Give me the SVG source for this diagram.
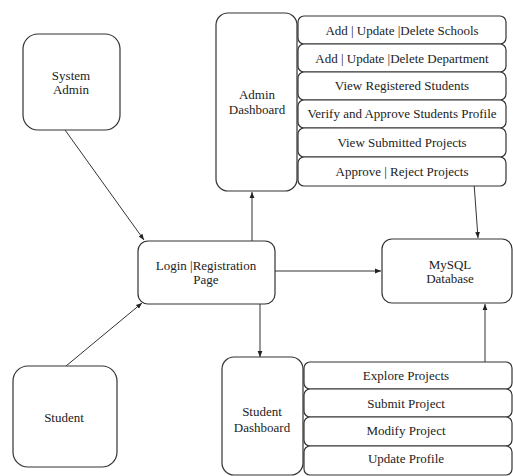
<svg xmlns="http://www.w3.org/2000/svg" width="513" height="476" viewBox="0 0 513 476" font-family="Liberation Serif, Times New Roman, serif">
<defs>
<style>
.box{fill:#fff;stroke:#333;stroke-width:1.2}
.t{font-size:13px;fill:#222;text-anchor:middle}
.c{stroke:#333;stroke-width:1;fill:none}
</style>
<marker id="ah" viewBox="0 0 10 10" refX="10" refY="5" markerWidth="6" markerHeight="6" orient="auto">
<path d="M0,1 L10,5 L0,9 z" fill="#222"/>
</marker>
</defs>
<rect width="513" height="476" fill="#fff"/>
<g id="connectors">
<line class="c" x1="65" y1="130" x2="144" y2="240" marker-end="url(#ah)"/>
<line class="c" x1="66" y1="366" x2="142" y2="303" marker-end="url(#ah)"/>
<line class="c" x1="252" y1="241" x2="252" y2="192" marker-end="url(#ah)"/>
<line class="c" x1="275" y1="271" x2="381" y2="271" marker-end="url(#ah)"/>
<line class="c" x1="474" y1="183" x2="478" y2="238" marker-end="url(#ah)"/>
<line class="c" x1="260" y1="304" x2="260" y2="357" marker-end="url(#ah)"/>
<line class="c" x1="485" y1="362" x2="485" y2="304" marker-end="url(#ah)"/>
</g>
<g id="system-admin">
<rect class="box" x="23" y="34" width="97" height="96" rx="15"/>
<text class="t" x="71" y="80">System</text>
<text class="t" x="71" y="94">Admin</text>
</g>
<g id="admin-dashboard">
<rect class="box" x="216" y="13" width="81" height="178" rx="12"/>
<text class="t" x="257" y="99">Admin</text>
<text class="t" x="257" y="114">Dashboard</text>
</g>
<g id="admin-items">
<rect class="box" x="298" y="16" width="208" height="28" rx="6"/>
<text class="t" x="402" y="35">Add | Update |Delete Schools</text>
<rect class="box" x="298" y="44" width="208" height="28" rx="6"/>
<text class="t" x="402" y="63">Add | Update |Delete Department</text>
<rect class="box" x="298" y="72" width="208" height="28" rx="6"/>
<text class="t" x="402" y="90">View Registered Students</text>
<rect class="box" x="298" y="100" width="208" height="28" rx="6"/>
<text class="t" x="402" y="118">Verify and Approve Students Profile</text>
<rect class="box" x="298" y="128" width="208" height="29" rx="6"/>
<text class="t" x="402" y="147">View Submitted Projects</text>
<rect class="box" x="298" y="157" width="208" height="29" rx="6"/>
<text class="t" x="402" y="176">Approve | Reject Projects</text>
</g>
<g id="login">
<rect class="box" x="138" y="241" width="137" height="63" rx="10"/>
<text class="t" x="206" y="270">Login  |Registration</text>
<text class="t" x="206" y="284">Page</text>
</g>
<g id="mysql">
<rect class="box" x="382" y="239" width="130" height="64" rx="10"/>
<text class="t" x="450" y="269">MySQL</text>
<text class="t" x="450" y="283">Database</text>
</g>
<g id="student">
<rect class="box" x="13" y="366" width="104" height="101" rx="15"/>
<text class="t" x="64" y="422">Student</text>
</g>
<g id="student-dashboard">
<rect class="box" x="222" y="357" width="81" height="118" rx="12"/>
<text class="t" x="262" y="416">Student</text>
<text class="t" x="262" y="432">Dashboard</text>
</g>
<g id="student-items">
<rect class="box" x="304" y="362" width="208" height="27" rx="6"/>
<text class="t" x="406" y="380">Explore Projects</text>
<rect class="box" x="304" y="389" width="208" height="28" rx="6"/>
<text class="t" x="406" y="408">Submit Project</text>
<rect class="box" x="304" y="417" width="208" height="29" rx="6"/>
<text class="t" x="406" y="435">Modify Project</text>
<rect class="box" x="304" y="446" width="208" height="29" rx="6"/>
<text class="t" x="406" y="463">Update Profile</text>
</g>
</svg>
